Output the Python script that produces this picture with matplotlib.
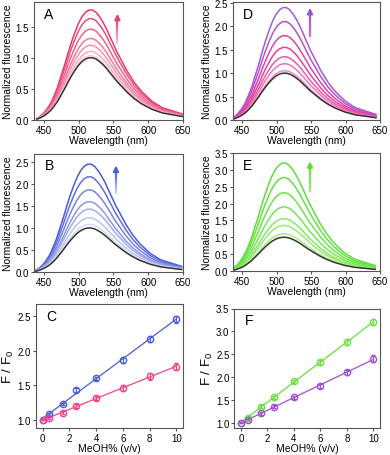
import numpy as np
import matplotlib
matplotlib.use("Agg")
import matplotlib.pyplot as plt
from matplotlib.colors import LinearSegmentedColormap, to_rgb
from matplotlib.collections import LineCollection

plt.rcParams['font.family'] = ['Liberation Sans', 'DejaVu Sans']
plt.rcParams['mathtext.default'] = 'regular'

# MeOH content (% v/v) and relative intensities F/F0
meoh = [0, 0.5, 1.5, 2.5, 4, 6, 8, 10]
ratio_pink = [1.00, 1.03, 1.10, 1.20, 1.31, 1.46, 1.63, 1.77]
err_pink = [0.01, 0.02, 0.02, 0.03, 0.03, 0.04, 0.05, 0.05]
ratio_blue = [1.00, 1.08, 1.23, 1.43, 1.60, 1.87, 2.17, 2.46]
err_blue = [0.01, 0.02, 0.02, 0.03, 0.02, 0.04, 0.04, 0.05]
ratio_green = [1.00, 1.10, 1.35, 1.55, 1.90, 2.32, 2.77, 3.20]
err_green = [0.01, 0.02, 0.03, 0.03, 0.04, 0.05, 0.06, 0.07]
ratio_purple = [1.00, 1.05, 1.20, 1.35, 1.55, 1.80, 2.10, 2.40]
err_purple = [0.01, 0.02, 0.03, 0.03, 0.04, 0.05, 0.06, 0.07]

# normalized emission profile (0 % MeOH), 440-650 nm every 5 nm
wavelength = np.arange(440, 651, 5)
profile = [0.01, 0.03, 0.06, 0.10, 0.15, 0.22, 0.30, 0.40, 0.50, 0.61,
           0.71, 0.80, 0.88, 0.94, 0.98, 1.00, 1.00, 0.98, 0.94, 0.89,
           0.83, 0.76, 0.69, 0.62, 0.56, 0.50, 0.44, 0.39, 0.34, 0.30,
           0.26, 0.23, 0.20, 0.17, 0.15, 0.13, 0.11, 0.10, 0.09, 0.08,
           0.07, 0.06, 0.05]
peak_shift = {'A': 0, 'B': -2, 'D': -6, 'E': -7}

W, H = 390, 456
fig = plt.figure(figsize=(W / 100, H / 100), dpi=100)


def add_ax(l, r, t, b):
    return fig.add_axes([l / W, 1 - b / H, (r - l) / W, (b - t) / H])


def style(ax):
    for s in ax.spines.values():
        s.set_color('#555555')
        s.set_linewidth(0.8)
    ax.tick_params(direction='out', length=2.5, width=0.8, color='#555555',
                   labelsize=7, pad=1)


def grad_arrow(ax, x, y0, y1, c0, c1):
    n = 24
    ys = np.linspace(y0, y1 - 0.05, n + 1)
    a, b = np.array(to_rgb(c0)), np.array(to_rgb(c1))
    segs = [[(x, ys[i]), (x, ys[i + 1])] for i in range(n)]
    cols = [a + (b - a) * i / (n - 1) for i in range(n)]
    ax.add_collection(LineCollection(segs, colors=cols, lw=1.6,
                                     transform=ax.transAxes))
    ax.annotate('', xy=(x, y1), xytext=(x, y1 - 0.06), xycoords='axes fraction',
                arrowprops=dict(arrowstyle='-|>', color=c1, lw=1.4,
                                mutation_scale=8, shrinkA=0, shrinkB=0))


def spectra(ax, key, ratios, cmap, ylim, yticks, arrow):
    wl = wavelength + peak_shift[key]
    for i in range(len(ratios) - 1, -1, -1):
        c = '#333333' if i == 0 else cmap((i - 1) / (len(ratios) - 2))
        ax.plot(wl, np.array(profile) * ratios[i], color=c, lw=1.1)
    ax.set_xlim(436, 650)
    ax.set_ylim(*ylim)
    ax.set_xticks([450, 500, 550, 600, 650])
    ax.set_yticks(yticks)
    ax.set_yticklabels([f'{v:.1f}' for v in yticks])
    ax.set_xlabel('Wavelength (nm)', fontsize=7.5, labelpad=0)
    ax.set_ylabel('Normalized fluorescence', fontsize=7.5, labelpad=2)
    ax.text(0.07, 0.9, key, transform=ax.transAxes, fontsize=10,
            ha='left', va='center')
    grad_arrow(ax, *arrow)
    style(ax)


def ratio_plot(ax, key, series, ylim, yticks):
    for y, e, c in series:
        k, b0 = np.polyfit(meoh, y, 1)
        xs = np.array([0, 10])
        ax.plot(xs, k * xs + b0, color=c, lw=0.9)
        ax.errorbar(meoh, y, yerr=e, fmt='o', mfc='none', mec=c, ecolor=c,
                    ms=4.5, mew=1.0, elinewidth=0.8, capsize=1.5, capthick=0.8)
    ax.set_xlim(-0.5, 10.5)
    ax.set_ylim(*ylim)
    ax.set_xticks([0, 2, 4, 6, 8, 10])
    ax.set_yticks(yticks)
    ax.set_yticklabels([f'{v:.1f}' for v in yticks])
    ax.set_xlabel('MeOH% (v/v)', fontsize=7.5, labelpad=0)
    ax.set_ylabel('F / F$_0$', fontsize=9.5, labelpad=1)
    ax.text(0.07, 0.9, key, transform=ax.transAxes, fontsize=10,
            ha='left', va='center')
    style(ax)


cm_a = LinearSegmentedColormap.from_list('a', ['#fbc6d6', '#f07a9c', '#e8386c'])
cm_b = LinearSegmentedColormap.from_list('b', ['#d4d8f6', '#8c98e6', '#4a5cd6'])
cm_d = LinearSegmentedColormap.from_list('d', ['#f58cc4', '#e8409c', '#a45ad8'])
cm_e = LinearSegmentedColormap.from_list('e', ['#a6ef84', '#76e552', '#5edf38'])

ax_a = add_ax(34, 183, 3, 120.7)
spectra(ax_a, 'A', ratio_pink, cm_a, (0, 1.9), [0.0, 0.5, 1.0, 1.5],
        (0.56, 0.64, 0.9, '#fbc6d6', '#e8407a'))

ax_d = add_ax(232.7, 380, 3, 121)
spectra(ax_d, 'D', ratio_purple, cm_d, (0, 2.52), [0.0, 0.5, 1.0, 1.5, 2.0, 2.5],
        (0.525, 0.70, 0.95, '#e070c0', '#9a50d0'))

ax_b = add_ax(34, 183, 154.7, 272.7)
spectra(ax_b, 'B', ratio_blue, cm_b, (0, 2.7), [0.0, 0.5, 1.0, 1.5, 2.0, 2.5],
        (0.55, 0.66, 0.9, '#d4d8f6', '#4a5cd6'))

ax_e = add_ax(232.7, 380, 154, 272)
spectra(ax_e, 'E', ratio_green, cm_e, (0, 3.5),
        [0.0, 0.5, 1.0, 1.5, 2.0, 2.5, 3.0, 3.5],
        (0.525, 0.67, 0.93, '#9af07a', '#5edf38'))

ax_c = add_ax(36, 183, 305, 429)
ratio_plot(ax_c, 'C', [(ratio_blue, err_blue, '#4a5cd6'),
                       (ratio_pink, err_pink, '#f0448c')],
           (0.88, 2.68), [1.0, 1.5, 2.0, 2.5])

ax_f = add_ax(234.3, 380, 309.5, 429)
ratio_plot(ax_f, 'F', [(ratio_green, err_green, '#6adf3c'),
                       (ratio_purple, err_purple, '#a050d0')],
           (0.88, 3.5), [1.0, 1.5, 2.0, 2.5, 3.0, 3.5])

fig.savefig('out.png', dpi=100)
